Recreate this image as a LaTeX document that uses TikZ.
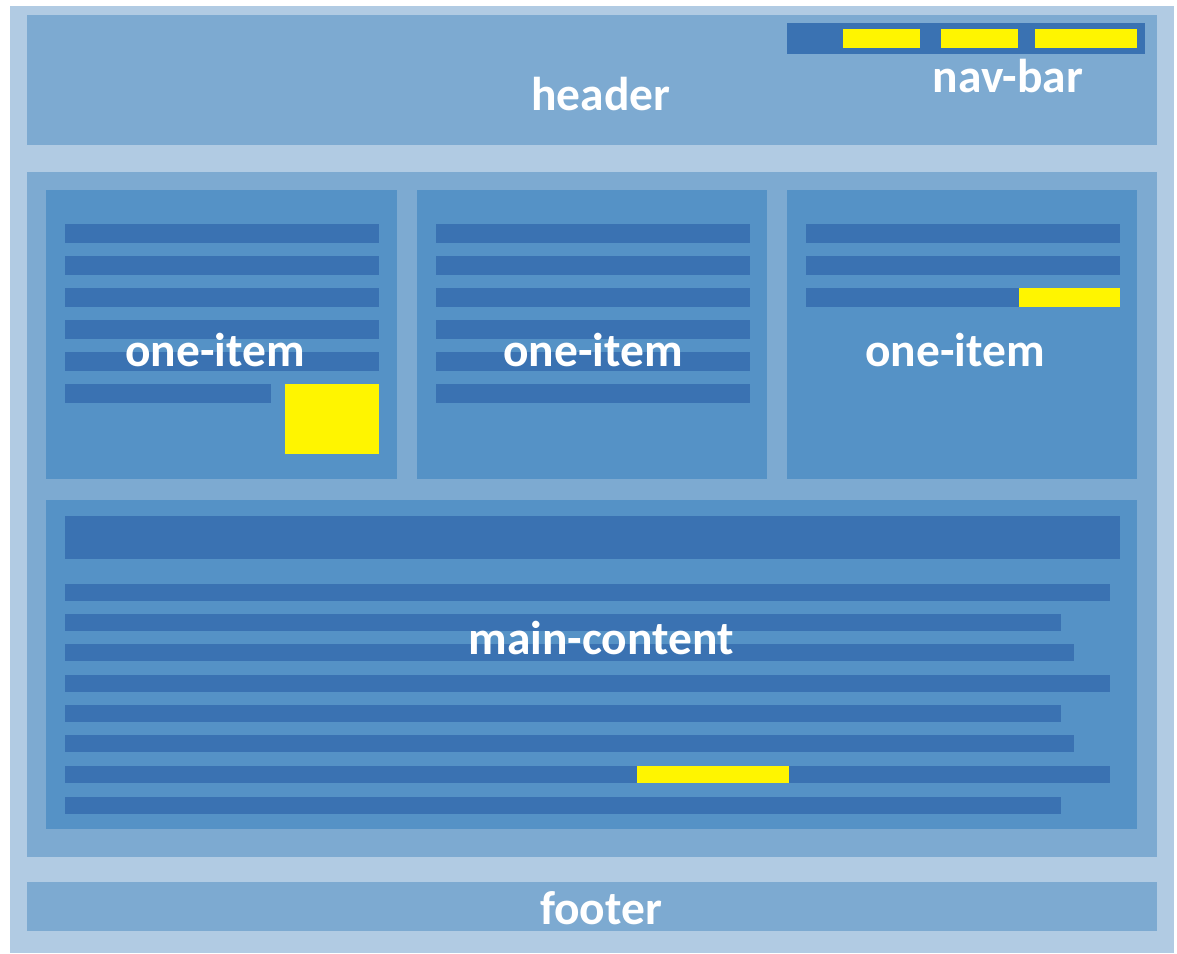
\documentclass[tikz,border=0pt]{standalone}
\usepackage{fontspec}
\setmainfont{Carlito}
\usepackage{xcolor}
\definecolor{pagebg}{HTML}{B1CBE3}
\definecolor{regionbg}{HTML}{7DAAD1}
\definecolor{panelbg}{HTML}{5592C6}
\definecolor{barblue}{HTML}{3A72B2}
\definecolor{hilite}{HTML}{FFF500}
\usepackage{tikz}
\usetikzlibrary{positioning}
\tikzstyle{page}=[fill=pagebg]
\tikzstyle{region}=[fill=regionbg]
\tikzstyle{panel}=[fill=panelbg]
\tikzstyle{bar}=[fill=barblue]
\tikzstyle{hilitebox}=[fill=hilite]
\tikzstyle{boxtitle}=[text=white, inner sep=0pt, font=\fontsize{13.5}{16}\selectfont\bfseries]
% one row of text in an item box
\newcommand{\itemrow}[3]{
  \path[bar] (#1,#2) rectangle (#3,#2+19);}
% one line of text in the main content
\newcommand{\contentrow}[2]{
  \path[bar] (65,#1) rectangle (#2,#1+17);}

\begin{document}
\begin{tikzpicture}[x=0.01cm, y=-0.01cm]
\useasboundingbox (0,0) rectangle (1177,953);

% page and regions
\path[page] (10,6) rectangle (1174,953);
\path[region] (27,15) rectangle (1157,145);
\path[region] (27,172) rectangle (1157,857);
\path[region] (27,882) rectangle (1157,931);

% nav bar
\path[bar] (787,23) rectangle (1145,54);
\foreach \a/\b in {843/920, 941/1018, 1035/1137}
  \path[hilitebox] (\a,29) rectangle (\b,48);

% item boxes
\path[panel] (46,190) rectangle (397,479);
\path[panel] (417,190) rectangle (767,479);
\path[panel] (787,190) rectangle (1137,479);
\foreach \y in {224,256,288,320,352}
  \itemrow{65}{\y}{379};
\itemrow{65}{384}{271}
\path[hilitebox] (285,384) rectangle (379,454);
\foreach \y in {224,256,288,320,352,384}
  \itemrow{436}{\y}{750};
\foreach \y in {224,256,288}
  \itemrow{806}{\y}{1120};
\path[hilitebox] (1019,288) rectangle (1120,307);

% main content
\path[panel] (46,500) rectangle (1137,829);
\path[bar] (65,516) rectangle (1120,559);
\foreach \y/\e in {584/1110, 614/1061, 644/1074, 675/1110, 705/1061, 735/1074, 766/1110, 797/1061}
  \contentrow{\y}{\e};
\path[hilitebox] (637,766) rectangle (789,783);

% titles
\node[boxtitle] (header) at (601,94) {header};
\node[boxtitle] (navbar) at (1008,76) {nav-bar};
\node[boxtitle] (itemleft) at (215,350) {one-item};
\node[boxtitle] (itemmid) at (593,350) {one-item};
\node[boxtitle] (itemright) at (955,350) {one-item};
\node[boxtitle] (maincontent) at (601,638) {main-content};
\node[boxtitle] (footer) at (601,908) {footer};

\end{tikzpicture}
\end{document}
